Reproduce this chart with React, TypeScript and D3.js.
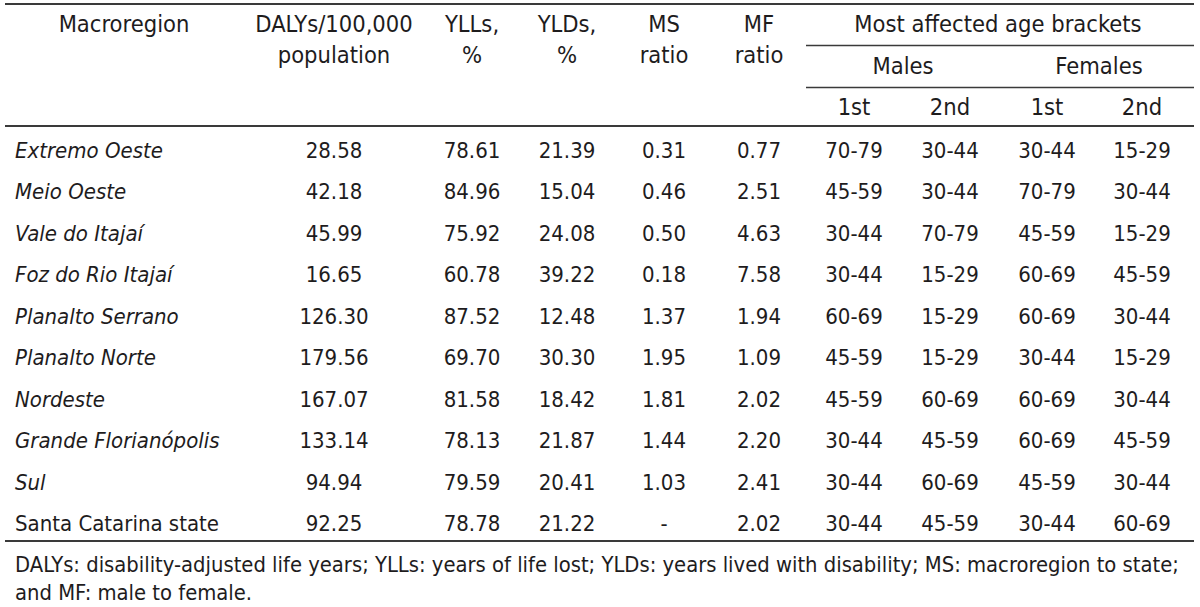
import React from "react";
import * as d3 from "d3";

const regions = [
  "Extremo Oeste",
  "Meio Oeste",
  "Vale do Itajaí",
  "Foz do Rio Itajaí",
  "Planalto Serrano",
  "Planalto Norte",
  "Nordeste",
  "Grande Florianópolis",
  "Sul",
  "Santa Catarina state",
];
const italicRegion = [true, true, true, true, true, true, true, true, true, false];
const dalys = ["28.58", "42.18", "45.99", "16.65", "126.30", "179.56", "167.07", "133.14", "94.94", "92.25"];
const ylls = ["78.61", "84.96", "75.92", "60.78", "87.52", "69.70", "81.58", "78.13", "79.59", "78.78"];
const ylds = ["21.39", "15.04", "24.08", "39.22", "12.48", "30.30", "18.42", "21.87", "20.41", "21.22"];
const msRatio = ["0.31", "0.46", "0.50", "0.18", "1.37", "1.95", "1.81", "1.44", "1.03", "-"];
const mfRatio = ["0.77", "2.51", "4.63", "7.58", "1.94", "1.09", "2.02", "2.20", "2.41", "2.02"];
const males1st = ["70-79", "45-59", "30-44", "30-44", "60-69", "45-59", "45-59", "30-44", "30-44", "30-44"];
const males2nd = ["30-44", "30-44", "70-79", "15-29", "15-29", "15-29", "60-69", "45-59", "60-69", "45-59"];
const females1st = ["30-44", "70-79", "45-59", "60-69", "60-69", "30-44", "60-69", "60-69", "45-59", "30-44"];
const females2nd = ["15-29", "30-44", "15-29", "45-59", "30-44", "15-29", "30-44", "45-59", "30-44", "60-69"];

const columnKeys = ["dalys", "ylls", "ylds", "ms", "mf", "m1", "m2", "f1", "f2"];
const columnValues = [dalys, ylls, ylds, msRatio, mfRatio, males1st, males2nd, females1st, females2nd];
const headerLine1 = ["DALYs/100,000", "YLLs,", "YLDs,", "MS", "MF"];
const headerLine2 = ["population", "%", "%", "ratio", "ratio"];
const groupTitle = "Most affected age brackets";
const sexLabels = ["Males", "Females"];
const rankLabels = ["1st", "2nd", "1st", "2nd"];
const footnote = [
  "DALYs: disability-adjusted life years; YLLs: years of life lost; YLDs: years lived with disability; MS: macroregion to state;",
  "and MF: male to female.",
];

const W = 1200;
const H = 607;
const FONT = "'DejaVu Sans Condensed', 'Liberation Sans Narrow', sans-serif";
const TEXT = "#1e1c1d";
const RULE = "#3a3a3a";

export default function App() {
  const x = d3.scaleOrdinal<string, number>()
    .domain(columnKeys)
    .range([334, 472, 567, 664, 759, 854, 950, 1047, 1142]);
  const y = d3.scalePoint<string>().domain(regions).range([158, 531]);
  const sexX = d3.scaleOrdinal<string, number>().domain(sexLabels).range([903, 1099]);

  return (
    <svg width={W} height={H} style={{ position: "absolute", left: 0, top: 0, background: "#fff" }}
      fontFamily={FONT} fill={TEXT}>
      <rect x={0} y={0} width={W} height={H} fill="#fff" />
      {/* rules */}
      <line x1={5} x2={1194} y1={4} y2={4} stroke={RULE} strokeWidth={2} />
      <line x1={806} x2={1194} y1={45.5} y2={45.5} stroke={RULE} strokeWidth={1.6} />
      <line x1={806} x2={1194} y1={87.5} y2={87.5} stroke={RULE} strokeWidth={1.6} />
      <line x1={5} x2={1194} y1={126} y2={126} stroke={RULE} strokeWidth={2} />
      <line x1={5} x2={1194} y1={541} y2={541} stroke={RULE} strokeWidth={2} />

      {/* header */}
      <g fontSize={23.5} textAnchor="middle">
        <text x={124} y={32}>Macroregion</text>
        {headerLine1.map((t, i) => (
          <text key={"h1" + i} x={x(columnKeys[i])} y={32}>{t}</text>
        ))}
        {headerLine2.map((t, i) => (
          <text key={"h2" + i} x={x(columnKeys[i])} y={63}>{t}</text>
        ))}
        <text x={998} y={32}>{groupTitle}</text>
        {sexLabels.map((t) => (
          <text key={t} x={sexX(t)} y={74}>{t}</text>
        ))}
        {rankLabels.map((t, i) => (
          <text key={"r" + i} x={x(columnKeys[5 + i])} y={115}>{t}</text>
        ))}
      </g>

      {/* body */}
      <g fontSize={22}>
        {regions.map((r, i) => (
          <text key={r} x={15} y={y(r)} fontStyle={italicRegion[i] ? "italic" : "normal"}>{r}</text>
        ))}
        {columnValues.map((vals, c) =>
          vals.map((v, i) => (
            <text key={c + "-" + i} x={x(columnKeys[c])} y={y(regions[i])} textAnchor="middle">{v}</text>
          ))
        )}
      </g>

      {/* footnote */}
      <g fontSize={21.8}>
        <text x={15} y={572}>{footnote[0]}</text>
        <text x={15} y={600}>{footnote[1]}</text>
      </g>
    </svg>
  );
}
